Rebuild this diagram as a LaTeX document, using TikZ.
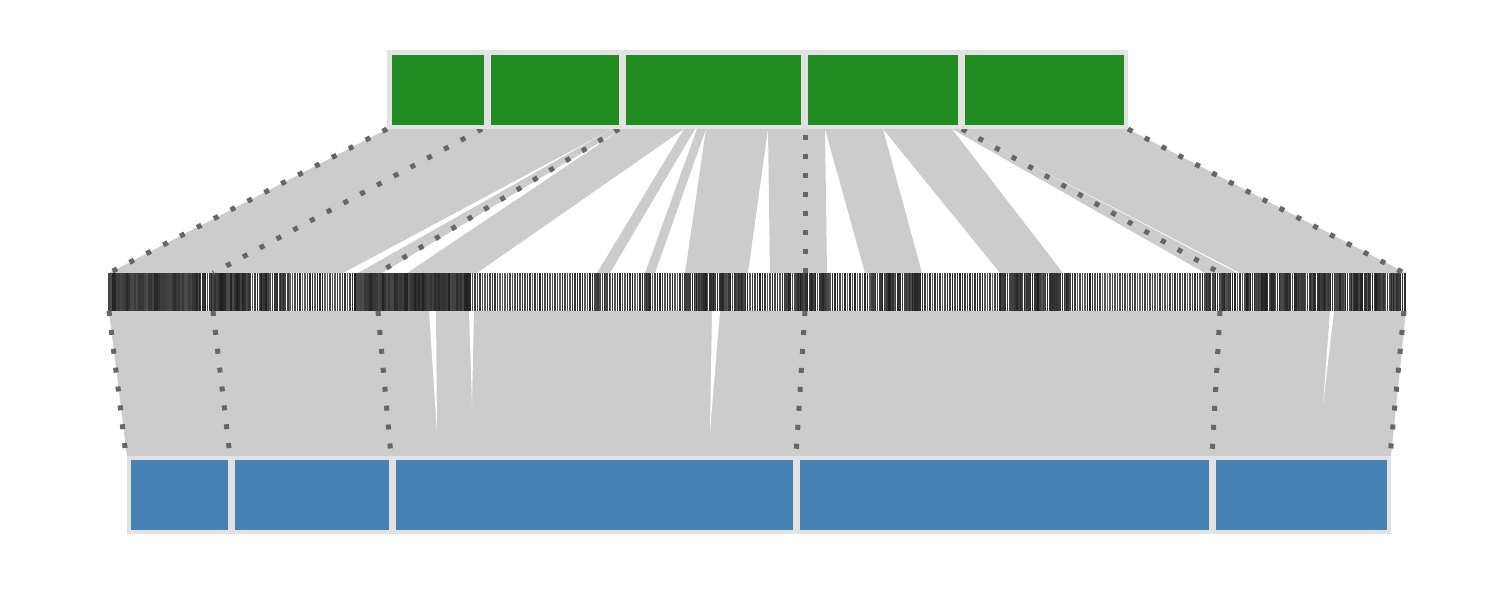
\documentclass[tikz,border=0pt]{standalone}
\usepackage{tikz}
\definecolor{bar_green}{RGB}{34,139,34}
\definecolor{bar_blue}{RGB}{70,130,180}
\definecolor{frame_gray}{RGB}{226,226,226}
\definecolor{band_gray}{RGB}{204,204,204}
\definecolor{dot_gray}{RGB}{102,102,102}

\begin{document}
\begin{tikzpicture}[x=0.5pt,y=-0.5pt]
    \tikzstyle{band}=[fill=band_gray,draw=none]
    \tikzstyle{gap}=[fill=white,draw=none]
    \tikzstyle{frame}=[fill=frame_gray,draw=none]
    \tikzstyle{dots}=[draw=dot_gray,line width=2.5pt,dash pattern=on 2.5pt off 7pt]
    \tikzstyle{tick}=[line width=0.62pt]
    \tikzstyle{tickdark}=[line width=0.62pt]
    \useasboundingbox (0,0) rectangle (1500,600);

    % ribbons from the top bar down to the sequence row
    \foreach \tl/\tr/\ml/\mr in {387/612/109/343, 612/622/358/382, 622/684/407/477,
      684/695/597/610, 697/706/645/655, 706/768/685/748, 768/825/770/827,
      825/883/865/922, 883/952/1000/1063, 952/962/1205/1237, 962/1128/1240/1406}
      \fill[band] (\tl,129) -- (\tr,129) -- (\mr,273) -- (\ml,273) -- cycle;

    % ribbons from the sequence row down to the bottom bar
    \fill[band] (109,311) -- (1406,311) -- (1391,456) -- (127,456) -- cycle;
    \foreach \l/\r/\px/\py in {429/436/437/432, 469/474/472/405, 712/720/710/432, 1330/1334/1323/405}
      \fill[gap] (\l,311) -- (\r,311) -- (\px,\py) -- cycle;

    % sequence row
    \pgfmathsetseed{7}
    \foreach \x in {110,112.5,...,1405} {
      \pgfmathsetmacro\shade{62+25*rnd}
      \draw[tick,draw=black!\shade] (\x,273) -- (\x,311);
    }
    \foreach \a/\b/\s in {109/195/2.0, 195/215/1.8, 215/250/2.0, 255/290/2.2,
      355/470/2.0, 597/610/1.8, 645/652/1.8, 685/745/1.9, 785/830/1.9,
      872/925/1.8, 1000/1070/1.9, 1205/1232/1.8, 1245/1406/1.9} {
      \pgfmathsetmacro\nx{\a+\s}
      \foreach \x in {\a,\nx,...,\b} {
        \pgfmathsetmacro\shade{70+18*rnd}
        \draw[tickdark,draw=black!\shade] (\x,273) -- (\x,311);
      }
    }

    % boundaries
    \foreach \ax/\ay/\bx/\by in {387/129/109/273, 482/129/213/273, 619/129/378/273,
      805/135/805/273, 962/129/1220/273, 1128/129/1404/273,
      109/311/126/456, 213/311/230/456, 378/311/391/456,
      805/311/796/456, 1220/311/1212/456, 1404/311/1390/456}
      \draw[dots] (\ax,\ay) -- (\bx,\by);

    % top bar
    \fill[frame] (387,50) rectangle (1128,129);
    \foreach \l/\r in {392/484, 491/619, 626/801, 808/958, 965/1124}
      \fill[bar_green] (\l,55) rectangle (\r,125);

    % bottom bar
    \fill[frame] (127,456) rectangle (1391,534);
    \foreach \l/\r in {131/228, 235/389, 396/793, 800/1209, 1216/1387}
      \fill[bar_blue] (\l,460) rectangle (\r,530);
\end{tikzpicture}
\end{document}
